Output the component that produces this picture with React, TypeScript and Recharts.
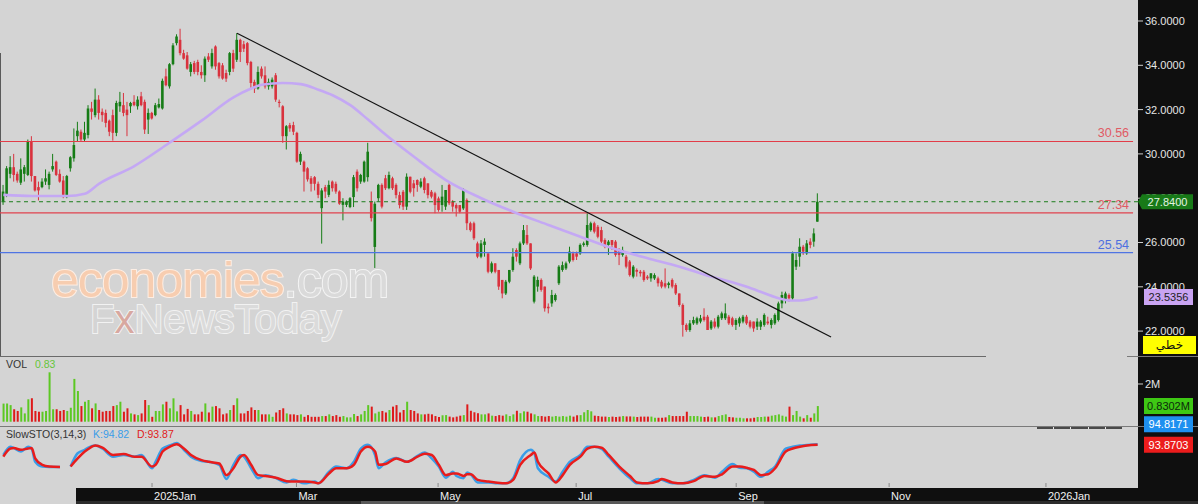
import { ComposedChart, Bar, Line, XAxis, YAxis, ReferenceLine, Cell } from "recharts";

// daily candles, [open, high, low, close]
const candles: [number, number, number, number][] = [
  [27.85, 28.6, 27.7, 28.3], [28.15, 29.45, 28.05, 29.35], [29.1, 29.9, 28.9, 29.4], [29.4, 30.0, 28.75, 29.05],
  [29.1, 29.2, 28.7, 28.8], [28.7, 29.8, 28.6, 29.3], [29.1, 29.5, 28.75, 29.4], [29.05, 30.65, 29.0, 30.55],
  [30.55, 30.8, 28.75, 29.0], [29.0, 29.0, 28.3, 28.35], [28.5, 28.75, 27.9, 28.35], [28.5, 28.9, 28.45, 28.75],
  [28.75, 29.3, 28.6, 28.9], [28.6, 29.2, 28.4, 29.1], [29.3, 30.0, 29.2, 29.45], [29.65, 29.7, 29.0, 29.05],
  [29.1, 29.3, 28.7, 28.75], [28.8, 29.0, 28.0, 28.15], [28.05, 29.05, 28.0, 29.0], [29.35, 29.9, 29.2, 29.85],
  [29.8, 31.15, 29.65, 30.4], [30.8, 31.45, 30.55, 31.05], [31.0, 31.1, 30.55, 30.65], [30.65, 31.45, 30.55, 30.95],
  [30.85, 32.2, 30.7, 32.05], [32.05, 32.35, 31.55, 31.9], [31.75, 32.95, 31.65, 32.45], [32.45, 32.65, 31.55, 31.85],
  [31.9, 32.05, 31.45, 31.75], [31.85, 32.0, 31.2, 31.4], [31.5, 31.55, 30.8, 31.0], [31.75, 32.0, 30.6, 30.95],
  [30.95, 32.4, 30.8, 32.3], [32.15, 32.8, 31.9, 32.35], [32.2, 32.75, 31.7, 31.85], [32.0, 32.35, 30.8, 31.75],
  [32.15, 32.35, 31.85, 32.3], [32.35, 32.65, 32.15, 32.2], [32.15, 32.6, 32.0, 32.45], [32.6, 32.8, 32.15, 32.2],
  [32.35, 32.45, 30.9, 31.1], [31.55, 32.05, 30.9, 31.85], [31.85, 31.9, 31.55, 31.6], [31.75, 32.3, 31.7, 32.2],
  [32.1, 32.5, 32.05, 32.25], [32.05, 33.4, 32.0, 33.3], [33.5, 33.85, 33.05, 33.1], [33.05, 34.1, 32.95, 34.05],
  [34.05, 35.0, 34.0, 34.9], [35.0, 35.4, 34.9, 35.3], [35.15, 35.65, 34.45, 34.55], [34.55, 34.7, 34.25, 34.3],
  [34.45, 34.6, 33.8, 33.85], [33.7, 34.15, 33.5, 34.05], [34.1, 34.2, 33.6, 33.7], [34.15, 34.25, 33.55, 33.7],
  [33.7, 34.0, 33.4, 33.55], [33.55, 34.4, 33.25, 34.3], [34.4, 34.55, 34.15, 34.25], [33.95, 34.75, 33.85, 34.55],
  [34.85, 34.9, 33.8, 33.95], [34.1, 34.15, 33.4, 33.5], [34.0, 34.1, 33.35, 33.4], [33.65, 33.8, 33.25, 33.4],
  [33.7, 34.6, 33.55, 34.55], [34.55, 34.7, 33.7, 33.85], [34.25, 35.45, 34.15, 35.15], [35.15, 35.2, 34.15, 34.6],
  [34.95, 35.1, 34.6, 34.75], [35.0, 35.05, 34.0, 34.1], [34.15, 34.2, 32.9, 33.2], [33.25, 33.35, 32.75, 32.95],
  [32.95, 33.95, 32.9, 33.7], [33.85, 33.95, 33.4, 33.5], [33.55, 33.95, 32.95, 33.05], [33.05, 33.4, 32.9, 33.25],
  [33.05, 33.45, 32.95, 33.35], [33.55, 33.65, 32.35, 32.45], [32.35, 32.45, 32.1, 32.3], [32.15, 32.2, 30.5, 30.8],
  [30.8, 31.3, 30.2, 31.25], [31.3, 31.4, 31.0, 31.15], [31.3, 31.45, 30.85, 31.0], [30.95, 31.0, 29.6, 29.65],
  [29.65, 30.1, 29.5, 30.0], [29.65, 29.7, 28.3, 29.2], [29.35, 29.4, 28.75, 28.85], [28.9, 29.0, 28.3, 28.65],
  [28.95, 29.0, 28.35, 28.65], [28.65, 28.75, 28.0, 28.15], [27.55, 28.45, 25.95, 28.35], [28.5, 28.6, 28.0, 28.3],
  [28.15, 28.8, 28.05, 28.6], [28.75, 28.8, 28.3, 28.45], [28.65, 28.75, 28.2, 28.3], [28.3, 28.35, 27.7, 27.75],
  [27.7, 28.0, 27.0, 27.85], [27.7, 27.9, 27.6, 27.85], [27.6, 28.05, 27.55, 28.0], [28.05, 29.05, 27.6, 28.95],
  [29.2, 29.3, 28.3, 28.45], [28.75, 29.1, 28.65, 29.05], [28.75, 29.7, 28.7, 29.65], [28.95, 30.5, 28.75, 30.1],
  [27.85, 28.3, 26.95, 27.1], [25.8, 27.85, 24.85, 27.75], [28.0, 28.65, 27.85, 28.6], [28.6, 28.67, 27.54, 27.62],
  [28.9, 29.05, 28.37, 28.45], [28.45, 29.2, 28.4, 29.05], [28.9, 28.97, 28.37, 28.45], [28.6, 28.67, 27.99, 28.14],
  [28.14, 28.29, 27.54, 27.69], [28.29, 28.37, 27.47, 27.62], [27.62, 29.12, 27.47, 28.97], [28.97, 28.97, 28.22, 28.29],
  [28.67, 28.82, 28.07, 28.45], [28.82, 28.85, 28.29, 28.6], [28.52, 28.9, 28.45, 28.75], [28.9, 28.97, 28.22, 28.37],
  [28.67, 28.67, 27.99, 28.14], [28.29, 28.37, 27.99, 28.07], [28.22, 28.29, 27.32, 27.69], [27.99, 28.07, 27.39, 27.47],
  [27.69, 28.6, 27.39, 28.07], [27.62, 28.37, 27.47, 28.37], [28.6, 28.67, 27.69, 27.77], [27.84, 27.92, 27.39, 27.62],
  [27.69, 27.77, 27.17, 27.54], [27.69, 27.69, 27.32, 27.39], [27.54, 28.45, 27.47, 28.37], [27.92, 27.99, 26.56, 26.87],
  [26.87, 26.94, 26.49, 26.56], [26.87, 26.94, 26.11, 26.19], [25.96, 26.04, 25.29, 25.36], [25.36, 26.11, 25.29, 25.96],
  [25.89, 26.19, 25.36, 26.04], [25.51, 25.51, 24.61, 24.68], [24.68, 25.14, 24.61, 25.06], [25.06, 25.06, 24.61, 24.68],
  [24.76, 24.76, 23.86, 24.01], [24.31, 24.31, 23.48, 23.7], [23.7, 24.31, 23.63, 24.23], [24.23, 24.76, 24.16, 24.76],
  [24.76, 25.74, 24.68, 25.36], [25.66, 25.74, 25.14, 25.36], [25.06, 26.04, 24.98, 25.96], [25.96, 26.79, 25.89, 26.56],
  [26.34, 26.79, 25.89, 25.96], [25.96, 25.96, 24.76, 24.83], [23.33, 24.53, 23.25, 24.46], [24.01, 24.46, 23.78, 24.31],
  [24.31, 24.38, 23.78, 23.86], [24.01, 24.01, 22.88, 23.03], [23.1, 23.25, 22.8, 23.03], [23.25, 23.86, 23.1, 23.63],
  [23.4, 23.7, 23.33, 23.63], [24.16, 24.98, 24.08, 24.91], [24.76, 25.14, 24.68, 24.98], [24.83, 25.14, 24.76, 25.06],
  [25.14, 25.81, 25.06, 25.59], [25.51, 25.59, 25.14, 25.21], [25.51, 25.59, 25.21, 25.36], [25.51, 25.96, 25.44, 25.89],
  [25.89, 26.04, 25.81, 25.96], [25.89, 27.32, 25.81, 26.79], [26.56, 26.94, 26.49, 26.87], [26.87, 26.94, 26.41, 26.49],
  [26.71, 26.79, 26.19, 26.26], [26.56, 26.71, 25.96, 26.04], [26.11, 26.19, 25.74, 25.81], [25.89, 26.11, 25.44, 26.04],
  [26.11, 26.11, 25.66, 25.89], [26.04, 26.11, 25.36, 25.44], [25.66, 25.74, 24.98, 25.44], [25.44, 25.81, 25.36, 25.66],
  [25.36, 25.44, 24.83, 24.91], [25.14, 25.21, 24.46, 24.53], [24.46, 24.98, 24.38, 24.91], [24.76, 24.83, 24.46, 24.68],
  [24.68, 24.76, 24.46, 24.61], [24.68, 24.76, 24.23, 24.31], [24.46, 24.53, 24.31, 24.38], [24.38, 24.61, 24.23, 24.61],
  [24.38, 24.61, 24.31, 24.53], [24.38, 24.46, 24.01, 24.16], [24.23, 24.31, 23.93, 24.01], [24.16, 24.83, 23.93, 24.01],
  [24.08, 24.23, 23.93, 24.16], [24.31, 24.38, 23.93, 24.01], [24.08, 24.16, 23.63, 23.7], [23.7, 23.7, 23.1, 23.18],
  [23.18, 23.25, 21.75, 22.28], [22.28, 22.35, 21.97, 22.05], [22.05, 22.5, 21.97, 22.35], [22.35, 22.65, 22.28, 22.5],
  [22.35, 22.65, 22.28, 22.58], [22.43, 22.73, 22.35, 22.58], [22.65, 23.03, 22.43, 22.5], [22.65, 22.73, 22.05, 22.05],
  [22.12, 22.5, 22.05, 22.43], [22.43, 22.58, 22.12, 22.2], [22.2, 22.73, 22.12, 22.65], [22.58, 22.88, 22.5, 22.8],
  [22.58, 23.25, 22.5, 22.8], [22.65, 22.73, 22.28, 22.35], [22.58, 22.65, 22.2, 22.28], [22.28, 22.58, 22.05, 22.5],
  [22.35, 22.65, 22.2, 22.58], [22.43, 22.73, 22.35, 22.65], [22.65, 22.73, 22.28, 22.35], [22.43, 22.5, 22.12, 22.2],
  [22.43, 22.43, 21.97, 22.12], [22.2, 22.58, 22.05, 22.43], [22.2, 22.5, 22.05, 22.43], [22.28, 22.8, 22.2, 22.73],
  [22.43, 22.65, 22.28, 22.35], [22.28, 22.58, 22.12, 22.5], [22.35, 22.8, 22.28, 22.73], [22.5, 23.33, 22.43, 23.25],
  [23.25, 23.78, 23.03, 23.63], [23.4, 23.78, 23.25, 23.7], [23.63, 23.7, 23.33, 23.48], [23.48, 25.59, 23.4, 25.51],
  [24.91, 25.51, 24.76, 25.21], [25.36, 26.19, 24.91, 25.81], [25.81, 25.89, 25.44, 25.59], [25.51, 26.11, 25.44, 25.96],
  [26.04, 26.19, 25.74, 25.89], [26.04, 26.64, 25.81, 26.41], [26.94, 28.22, 26.94, 27.84],
];

// volume in millions, one per candle
const volumes = [
  0.96, 0.96, 0.88, 0.66, 0.57, 0.76, 0.44, 1.19, 1.24, 0.57,
  0.53, 0.53, 0.57, 2.62, 0.66, 0.66, 0.57, 0.62, 0.57, 0.74,
  2.27, 1.63, 0.83, 1.06, 1.15, 0.71, 0.97, 0.62, 0.53, 0.57,
  0.57, 0.83, 0.88, 1.06, 0.53, 0.71, 0.44, 0.39, 0.35, 0.44,
  1.15, 0.88, 0.26, 0.57, 0.57, 0.92, 1.06, 0.71, 1.24, 0.55,
  0.88, 0.39, 0.68, 0.57, 0.39, 0.39, 0.53, 0.97, 0.49, 0.8,
  0.83, 0.71, 0.39, 0.44, 0.62, 0.88, 1.24, 0.44, 0.44, 0.57,
  0.76, 0.62, 0.62, 0.39, 0.39, 0.39, 0.26, 0.49, 0.62, 0.71,
  0.44, 0.39, 0.39, 0.35, 0.39, 0.26, 0.35, 0.26, 0.26, 0.26,
  0.3, 0.3, 0.39, 0.3, 0.35, 0.26, 0.3, 0.23, 0.23, 0.41,
  0.3, 0.39, 0.57, 0.88, 0.8, 0.44, 0.53, 0.57, 0.49, 0.62,
  0.8, 0.88, 0.49, 0.62, 1.06, 0.62, 0.57, 0.44,
  0.39, 0.39, 0.42, 0.39, 0.3, 0.25, 0.34, 0.35, 0.27, 0.23,
  0.27, 0.32, 0.35, 0.92, 0.58, 0.5, 0.45, 0.39, 0.39, 0.44,
  0.32, 0.3, 0.35, 0.32, 0.39, 0.3, 0.39, 0.58, 0.45, 0.55,
  0.53, 0.44, 0.39, 0.3, 0.3, 0.27, 0.3, 0.27, 0.3, 0.27,
  0.3, 0.27, 0.32, 0.27, 0.34, 0.35, 0.5, 0.62, 0.55, 0.32,
  0.3, 0.27, 0.27, 0.25, 0.27, 0.25, 0.27, 0.3, 0.28, 0.28,
  0.27, 0.25, 0.27, 0.27, 0.27, 0.27, 0.21, 0.21, 0.21, 0.23,
  0.35, 0.3, 0.3, 0.3, 0.3, 0.53, 0.3, 0.3, 0.3, 0.27,
  0.25, 0.27, 0.23, 0.23, 0.3, 0.35, 0.39, 0.25, 0.23, 0.21,
  0.21, 0.18, 0.18, 0.18, 0.21, 0.25, 0.25, 0.27, 0.27, 0.32,
  0.35, 0.39, 0.32, 0.27, 0.8, 0.35, 0.57, 0.27, 0.18, 0.35,
  0.21, 0.44, 0.83,
];

// moving average, read at sample candles
const maIdx = [0, 8, 18, 23, 27, 37, 46, 56, 65, 70, 73, 79, 84, 89, 93, 98, 103, 107, 116, 125, 135, 144, 154, 163, 172, 182, 191, 200, 210, 215, 219, 222, 225, 230];
const maVal = [28.15, 28.1, 28.1, 28.2, 28.65, 29.45, 30.4, 31.5, 32.55, 32.95, 33.12, 33.2, 33.15, 32.9, 32.65, 32.2, 31.55, 31.0, 29.87, 28.82, 28.0, 27.39, 26.79, 26.26, 25.74, 25.29, 24.91, 24.46, 24.0, 23.71, 23.48, 23.38, 23.38, 23.54];

// slow stochastic (3,14,3), read at sample candles
const stoIdx = [0, 2, 3, 5, 7, 8, 9, 11, 13, 16, 17, 18, 19, 21, 23, 24, 26, 28, 31, 34, 37, 39, 42, 43, 45, 47, 49, 51, 53, 56, 58, 61, 63, 65, 67, 68, 70, 72, 74, 77, 80, 82, 85, 88, 89, 92, 94, 97, 99, 101, 103, 105, 106, 108, 111, 114, 117, 119, 121, 123, 125, 127, 128, 130, 131, 132, 134, 137, 139, 142, 144, 146, 149, 150, 151, 154, 156, 158, 160, 163, 165, 167, 169, 171, 174, 177, 179, 182, 185, 186, 189, 192, 195, 198, 201, 203, 206, 208, 210, 212, 214, 216, 218, 221, 223, 225, 227, 230];
const stoK = [70, 89, 86, 78, 89, 85, 54, 43, 42, 42, null, null, 43, 74, 82, 87, 92, 85, 66, 70, 66, 70, 39, 54, 85, 92, 98, 82, 66, 56, 54, 47, 14, 47, 70, 66, 39, 16, 23, 16, 6, 12, 4, 8, 4, 31, 43, 39, 54, 85, 94, 70, 39, 53, 63, 54, 68, 76, 62, 43, 17, 31, 21, 16, 29, 25, 6, 6, 4, 4, 16, 58, 82, 74, 39, 19, 8, 31, 54, 70, 89, 89, 84, 66, 39, 16, 4, 4, 14, 12, 4, 4, 12, 23, 17, 31, 49, 40, 39, 31, 19, 31, 43, 85, 89, 92, 93, 94.82];
const stoD = [66, 85, 86, 82, 85, 86, 62, 47, 43, 42, null, null, 43, 62, 78, 84, 92, 87, 70, 72, 66, 66, 43, 47, 78, 89, 95, 85, 70, 58, 54, 50, 23, 39, 66, 70, 47, 23, 21, 17, 9, 8, 8, 6, 4, 27, 39, 39, 47, 78, 89, 78, 47, 49, 62, 54, 66, 73, 70, 47, 23, 27, 27, 21, 25, 25, 12, 8, 6, 4, 12, 47, 70, 76, 54, 27, 6, 23, 47, 66, 85, 89, 87, 70, 43, 21, 6, 4, 9, 14, 6, 4, 9, 21, 19, 25, 43, 43, 40, 35, 23, 25, 39, 78, 85, 89, 92, 93.87];

const levelValues = [30.56, 27.34, 25.54];
const lastClose = 27.84;
const maLast = 23.5356;
const volLast = 0.8302;
const kLast = 94.8171;
const dLast = 93.8703;
const trendStart = { i: 66, v: 35.45 };
const trendEnd = { i: 233.8, v: 21.73 };

const priceTicks = [22, 24, 26, 28, 30, 32, 34, 36];
const monthIdx = [42, 82.8, 122.8, 161.8, 207, 250.2, 294.5];
const monthLabels = ["2025Jan", "Mar", "May", "Jul", "Sep", "Nov", "2026Jan"];

const X_DOMAIN: [number, number] = [-0.94, 320.5];
const LEVEL_END = 319.1;
const PRICE_DOMAIN: [number, number] = [20.831, 36.948];
const FONT = "'Liberation Sans', Arial, sans-serif";
const UP = "#167c16";
const DOWN = "#d9323e";
const VOL_UP = "#5cc823";
const VOL_DOWN = "#de1a1a";
const LEVEL_LINE = ["#e23c48", "#e0434f", "#4f74e3"];
const LEVEL_TEXT = ["#e05a64", "#e05a64", "#4d70e0"];

const priceRows = candles.map(([o, h, l, c], i) => ({ i, o, h, l, c, range: [l, h] }));
const maRows = maIdx.map((i, k) => ({ i, ma: maVal[k] }));
const volRows = volumes.map((v, i) => ({ i, v, up: candles[i][3] >= candles[i][0] }));
const stoRows = stoIdx.map((i, k) => ({ i, k: stoK[k], d: stoD[k] }));

function Candle(props: any) {
  const { x, y, width, height, payload } = props;
  const top = Math.min(y, y + height);
  const bot = Math.max(y, y + height);
  const { o, h, l, c } = payload;
  const span = h - l || 1;
  const py = (v: number) => top + ((h - v) / span) * (bot - top);
  const color = c >= o ? UP : DOWN;
  const cx = x + width / 2;
  const b1 = py(Math.max(o, c));
  const b2 = py(Math.min(o, c));
  return (
    <g>
      <line x1={cx} x2={cx} y1={top} y2={bot} stroke={color} strokeWidth={1} />
      <rect x={cx - 1.3} y={b1} width={2.6} height={Math.max(1, b2 - b1)} fill={color} />
    </g>
  );
}

function Badge(props: any) {
  const { viewBox, text, bg, fg, dy = 0, arrow = false } = props;
  if (!viewBox) return null;
  const x0 = viewBox.x + viewBox.width;
  const y = viewBox.y + dy;
  const left = x0 + (arrow ? 4 : 6);
  const right = x0 + 55;
  const d = arrow
    ? `M${x0} ${y} L${left} ${y - 7.5} L${right} ${y - 7.5} L${right} ${y + 7.5} L${left} ${y + 7.5} Z`
    : `M${left} ${y - 8} L${right} ${y - 8} L${right} ${y + 8} L${left} ${y + 8} Z`;
  return (
    <g>
      <path d={d} fill={bg} />
      <text x={(left + right) / 2} y={y + 4} textAnchor="middle" fill={fg} fontSize={11} fontFamily={FONT}>
        {text}
      </text>
    </g>
  );
}

function LevelLabel(props: any) {
  const { viewBox, text, color } = props;
  if (!viewBox) return null;
  return (
    <text x={viewBox.x + viewBox.width - 4} y={viewBox.y - 4} textAnchor="end" fill={color} fontSize={12.5} fontFamily={FONT}>
      {text}
    </text>
  );
}

function MonthTick(props: any) {
  const { x, y, payload } = props;
  const k = monthIdx.indexOf(payload.value);
  return (
    <g>
      <line x1={x} x2={x} y1={y - 5} y2={y - 1} stroke="#8a8a8a" />
      <text x={x + 2} y={y + 12} fill="#f0f0f0" fontSize={11} fontFamily={FONT}>
        {monthLabels[k]}
      </text>
    </g>
  );
}

const abs = (left: number, top: number, width: number, height: number, background: string) => ({
  position: "absolute" as const, left, top, width, height, background,
});

export default function App() {
  return (
    <div style={{ position: "relative", width: 1198, height: 504, background: "#d4d4d4", overflow: "hidden", fontFamily: FONT }}>
      <style>{"body{margin:0}"}</style>
      <div style={abs(1138, 0, 60, 504, "#0f0f0f")} />
      <div style={abs(76, 488, 1122, 16, "#0f0f0f")} />
      <div style={abs(76, 501, 1122, 3, "#2c2c2c")} />
      <div style={abs(361, 501, 403, 3, "#585858")} />
      <div style={abs(0, 53, 1, 304, "#5a5a5a")} />
      <div style={abs(0, 356, 986, 1, "#6a6a6a")} />
      <div style={abs(1127, 356, 71, 1, "#7a7a7a")} />
      <div style={abs(0, 426, 1198, 1, "#7a7a7a")} />
      <div style={abs(1037, 427, 85, 2, "#4a4a4a")} />
      {[1053, 1070, 1088, 1105].map((x) => (
        <div key={x} style={abs(x, 427, 1, 2, "#e8e8e8")} />
      ))}

      <svg style={{ position: "absolute", left: 0, top: 0 }} width={1138} height={357}>
        <text x={51} y={297} fontSize={50} letterSpacing={-1} fontFamily={FONT} strokeWidth={2} style={{ paintOrder: "stroke" }}>
          <tspan fill="#f7cdb0" stroke="#fdeee4">economies</tspan>
          <tspan fill="#dadada" stroke="#f4f4f4">.com</tspan>
        </text>
        <text x={90} y={333} fontSize={40} fontFamily={FONT} strokeWidth={2} style={{ paintOrder: "stroke" }} stroke="#f2f2f2">
          <tspan fill="#d4d4d4">F</tspan>
          <tspan fill="#d8a8a0">x</tspan>
          <tspan fill="#dbdbdb">NewsToday</tspan>
        </text>
      </svg>

      <div style={{ position: "absolute", left: 0, top: 0 }}>
        <ComposedChart width={1198} height={357} data={priceRows} margin={{ top: 0, right: 0, bottom: 0, left: 0 }}>
          <XAxis dataKey="i" type="number" domain={X_DOMAIN} allowDataOverflow hide />
          <YAxis
            orientation="right"
            width={60}
            domain={PRICE_DOMAIN}
            allowDataOverflow
            ticks={priceTicks}
            tickFormatter={(v: number) => v.toFixed(4)}
            tick={{ fill: "#e6e6e6", fontSize: 11, fontFamily: FONT }}
            tickLine={{ stroke: "#cfcfcf" }}
            tickSize={5}
            tickMargin={2}
            axisLine={false}
          />
          <ReferenceLine y={lastClose} stroke="#1b7d1b" strokeDasharray="4 3.5" />
          {levelValues.map((v, k) => (
            <ReferenceLine
              key={`lvl-${k}`}
              segment={[{ x: X_DOMAIN[0], y: v }, { x: LEVEL_END, y: v }]}
              ifOverflow="visible"
              stroke={LEVEL_LINE[k]}
              strokeWidth={1.2}
              label={<LevelLabel text={v.toFixed(2)} color={LEVEL_TEXT[k]} />}
            />
          ))}
          <Bar dataKey="range" barSize={3} shape={Candle} isAnimationActive={false} />
          <Line data={maRows} dataKey="ma" type="monotone" stroke="#c4a8f4" strokeWidth={2.6} dot={false} activeDot={false} isAnimationActive={false} />
          <ReferenceLine
            segment={[{ x: trendStart.i, y: trendStart.v }, { x: trendEnd.i, y: trendEnd.v }]}
            stroke="#111111"
            strokeWidth={1.2}
            ifOverflow="visible"
          />
        </ComposedChart>
      </div>

      {/* badge layer above the axis labels, on the same scales */}
      <div style={{ position: "absolute", left: 0, top: 0 }}>
        <ComposedChart width={1198} height={357} data={priceRows} margin={{ top: 0, right: 0, bottom: 0, left: 0 }}>
          <XAxis dataKey="i" type="number" domain={X_DOMAIN} allowDataOverflow hide />
          <YAxis orientation="right" width={60} domain={PRICE_DOMAIN} allowDataOverflow tick={false} tickLine={false} axisLine={false} />
          <ReferenceLine y={lastClose} stroke="transparent" label={<Badge text={lastClose.toFixed(4)} bg="#187a18" fg="#e4f4e4" arrow />} />
          <ReferenceLine y={maLast} stroke="transparent" label={<Badge text={maLast.toFixed(4)} bg="#c9a4f2" fg="#1e1e1e" />} />
        </ComposedChart>
      </div>

      <div style={{ position: "absolute", left: 0, top: 357 }}>
        <ComposedChart width={1198} height={70} data={volRows} margin={{ top: 0, right: 0, bottom: 0, left: 0 }}>
          <XAxis dataKey="i" type="number" domain={X_DOMAIN} allowDataOverflow hide />
          <YAxis
            orientation="right"
            width={60}
            domain={[-0.281, 3.432]}
            allowDataOverflow
            ticks={[2]}
            tickFormatter={(v: number) => `${v}M`}
            tick={{ fill: "#e6e6e6", fontSize: 11, fontFamily: FONT }}
            tickLine={{ stroke: "#cfcfcf" }}
            tickSize={5}
            tickMargin={2}
            axisLine={false}
          />
          <Bar dataKey="v" barSize={2} isAnimationActive={false}>
            {volRows.map((r) => (
              <Cell key={r.i} fill={r.up ? VOL_UP : VOL_DOWN} />
            ))}
          </Bar>
          <ReferenceLine y={volLast} stroke="transparent" label={<Badge text={`${volLast.toFixed(4)}M`} bg="#3ec814" fg="#0c2a0c" />} />
        </ComposedChart>
      </div>

      <div style={{ position: "absolute", left: 0, top: 415 }}>
        <ComposedChart width={1198} height={89} data={stoRows} margin={{ top: 12, right: 60, bottom: 0, left: 0 }}>
          <XAxis
            dataKey="i"
            type="number"
            domain={X_DOMAIN}
            allowDataOverflow
            ticks={monthIdx}
            interval={0}
            tick={<MonthTick />}
            tickLine={false}
            axisLine={false}
            tickSize={0}
            tickMargin={0}
            height={16}
          />
          <YAxis hide domain={[-7, 135.2]} allowDataOverflow />
          <Line dataKey="k" type="monotone" stroke="#3a9de8" strokeWidth={2.5} dot={false} activeDot={false} isAnimationActive={false} />
          <Line dataKey="d" type="monotone" stroke="#e81c1c" strokeWidth={2.5} dot={false} activeDot={false} isAnimationActive={false} />
          <ReferenceLine y={kLast} stroke="transparent" label={<Badge text={kLast.toFixed(4)} bg="#1e90f0" fg="#ffffff" dy={-20} />} />
          <ReferenceLine y={dLast} stroke="transparent" label={<Badge text={dLast.toFixed(4)} bg="#ec1c1c" fg="#ffffff" />} />
        </ComposedChart>
      </div>

      <div style={{ ...abs(1143, 336, 53, 18, "#ffff00"), color: "#111", fontSize: 12, fontFamily: "'DejaVu Sans', sans-serif", lineHeight: "18px", textAlign: "center" }}>
        خطي
      </div>

      <svg style={{ position: "absolute", left: 0, top: 0, pointerEvents: "none" }} width={1198} height={504}>
        <text x={6} y={368} fontSize={10.5} fontFamily={FONT} fill="#333">VOL</text>
        <text x={35} y={368} fontSize={10.5} fontFamily={FONT} fill="#66c63a">{volLast.toFixed(2)}</text>
        <text x={6} y={438} fontSize={10.5} fontFamily={FONT} fill="#333">SlowSTO(3,14,3)</text>
        <text x={93} y={438} fontSize={10.5} fontFamily={FONT} fill="#3a9de8">{`K:${kLast.toFixed(2)}`}</text>
        <text x={137} y={438} fontSize={10.5} fontFamily={FONT} fill="#e02020">{`D:${dLast.toFixed(2)}`}</text>
      </svg>
    </div>
  );
}
